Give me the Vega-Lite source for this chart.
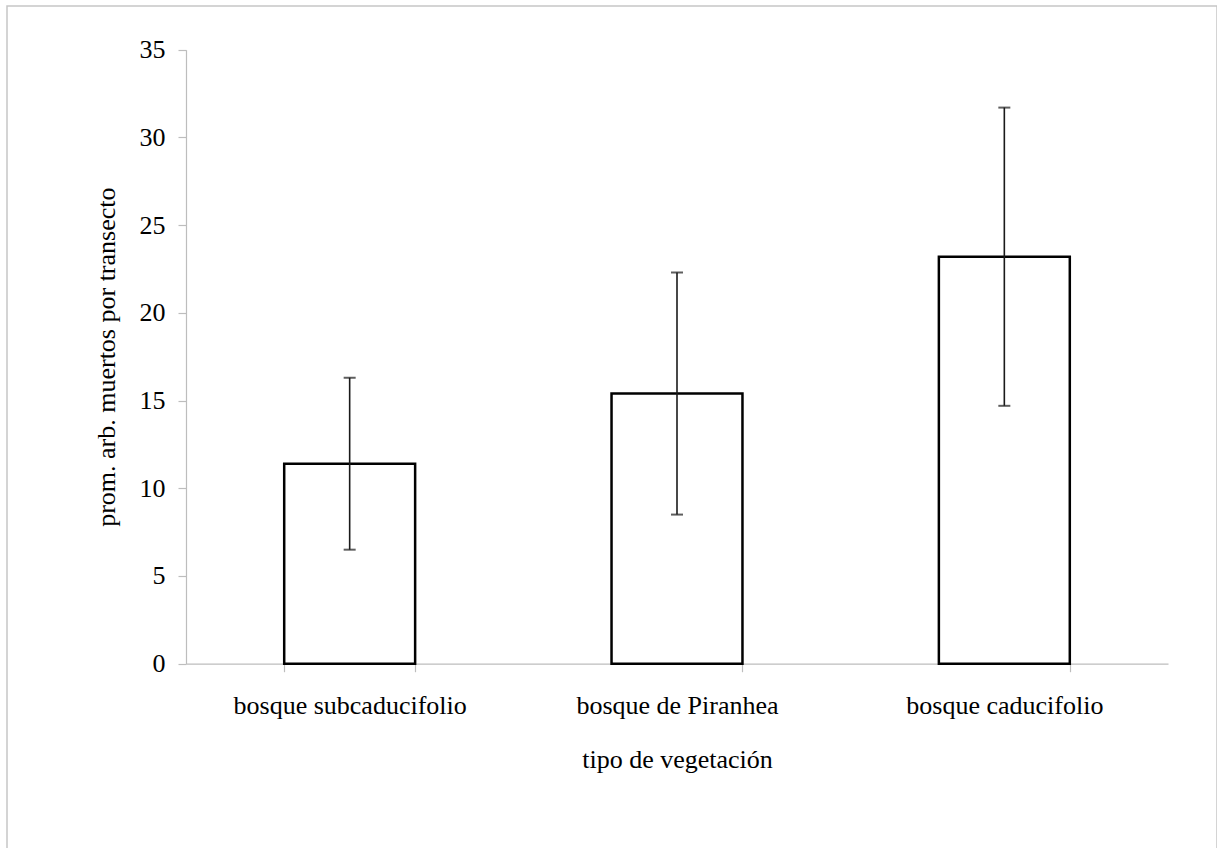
{
  "$schema": "https://vega.github.io/schema/vega-lite/v6.json",
  "autosize": {"type": "none"},
  "padding": {"left": 7, "top": 6, "right": 0, "bottom": 0},
  "width": 1210,
  "height": 845,
  "background": "white",
  "config": {
    "view": {"stroke": "#c6c6c6", "strokeWidth": 1.5},
    "font": "Liberation Serif",
    "axis": {
      "labelFont": "Liberation Serif",
      "titleFont": "Liberation Serif",
      "labelFontSize": 26,
      "titleFontSize": 26,
      "labelColor": "#000000",
      "titleColor": "#000000",
      "titleFontWeight": "normal",
      "labelLimit": 0,
      "domainColor": "#bdbdbd",
      "tickColor": "#bdbdbd",
      "domainWidth": 1.2,
      "tickWidth": 1.2,
      "tickSize": 8,
      "grid": false
    }
  },
  "data": {
    "values": [
      {"tipo": "bosque subcaducifolio", "media": 11.4, "inf": 6.5, "sup": 16.3},
      {"tipo": "bosque de Piranhea", "media": 15.4, "inf": 8.5, "sup": 22.3},
      {"tipo": "bosque caducifolio", "media": 23.2, "inf": 14.7, "sup": 31.7}
    ]
  },
  "encoding": {
    "x": {
      "field": "tipo",
      "type": "nominal",
      "sort": null,
      "scale": {"range": [179, 1161], "paddingInner": 0.6, "paddingOuter": 0.3},
      "axis": {
        "title": "tipo de vegetación",
        "labelAngle": 0,
        "tickBand": "extent",
        "offset": -187.3,
        "labelPadding": 21,
        "titlePadding": 28
      }
    }
  },
  "layer": [
    {
      "mark": {"type": "bar", "fill": "white", "stroke": "#000000", "strokeWidth": 2.5},
      "encoding": {
        "y": {
          "field": "media",
          "type": "quantitative",
          "scale": {"domain": [0, 35], "range": [657.7, 43.7], "nice": false},
          "axis": {
            "title": "prom. arb. muertos por transecto",
            "values": [0, 5, 10, 15, 20, 25, 30, 35],
            "offset": -179,
            "labelPadding": 13,
            "titlePadding": 20
          }
        }
      }
    },
    {
      "mark": {"type": "rule", "color": "#1a1a1a", "strokeWidth": 1.6},
      "encoding": {
        "y": {"field": "inf", "type": "quantitative"},
        "y2": {"field": "sup"}
      }
    },
    {
      "mark": {"type": "tick", "color": "#1a1a1a", "size": 12, "thickness": 2},
      "encoding": {"y": {"field": "inf", "type": "quantitative"}}
    },
    {
      "mark": {"type": "tick", "color": "#1a1a1a", "size": 12, "thickness": 2},
      "encoding": {"y": {"field": "sup", "type": "quantitative"}}
    }
  ]
}
